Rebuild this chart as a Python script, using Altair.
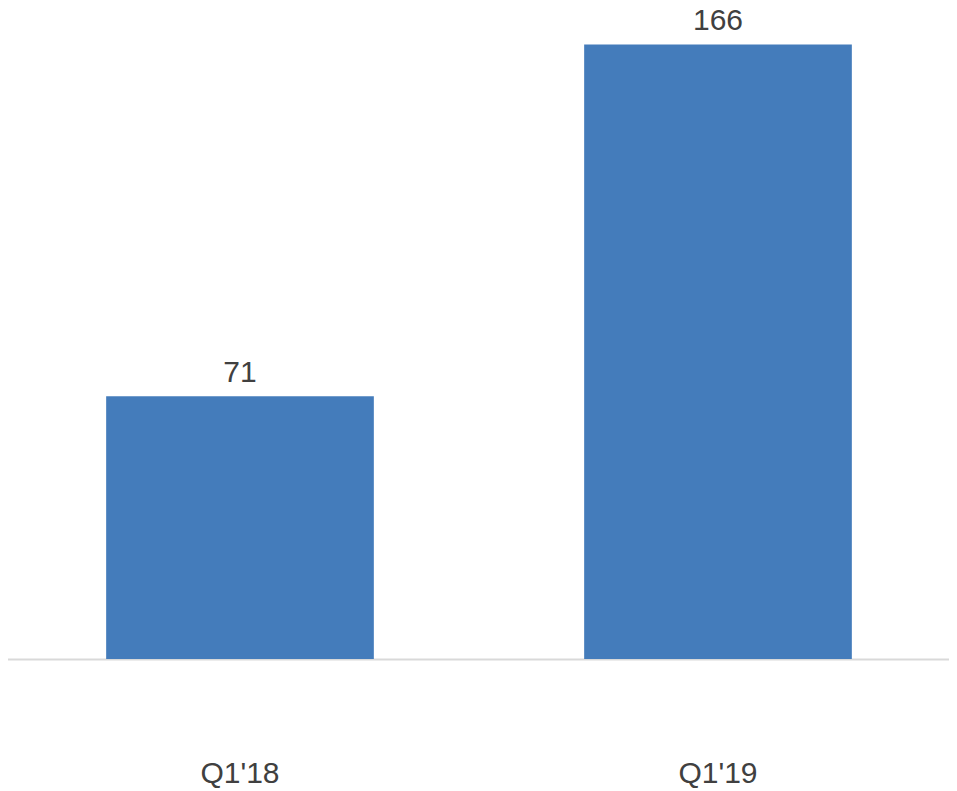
import altair as alt
import pandas as pd

categories = ["Q1'18", "Q1'19"]
values = [71, 166]

df = pd.DataFrame({"period": categories, "value": values})

FONT = "Liberation Sans"
TEXT_COLOR = "#404040"

base = alt.Chart(df).encode(
    x=alt.X(
        "period:N",
        sort=categories,
        scale=alt.Scale(paddingInner=0.44, paddingOuter=0.22),
        axis=alt.Axis(
            title=None,
            labelAngle=0,
            labelFont=FONT,
            labelFontSize=30,
            labelColor=TEXT_COLOR,
            labelBaseline="alphabetic",
            labelPadding=123,
            ticks=False,
            tickSize=0,
            domainColor="#d9d9d9",
            domainWidth=2,
            grid=False,
        ),
    ),
    y=alt.Y(
        "value:Q",
        scale=alt.Scale(domain=[0, 178], nice=False),
        axis=None,
    ),
)

bars = base.mark_bar(color="#447CBB")
labels = base.mark_text(
    font=FONT,
    fontSize=30,
    color=TEXT_COLOR,
    baseline="alphabetic",
    dy=-14,
).encode(text=alt.Text("value:Q"))

chart = (
    (bars + labels)
    .properties(
        width=956,
        height=659,
        autosize=alt.AutoSizeParams(type="none"),
        padding={"left": -7, "top": -8, "right": -8, "bottom": 132},
    )
    .configure_view(stroke=None)
)

chart.save("out.html", embed_options={"renderer": "svg", "actions": False})
